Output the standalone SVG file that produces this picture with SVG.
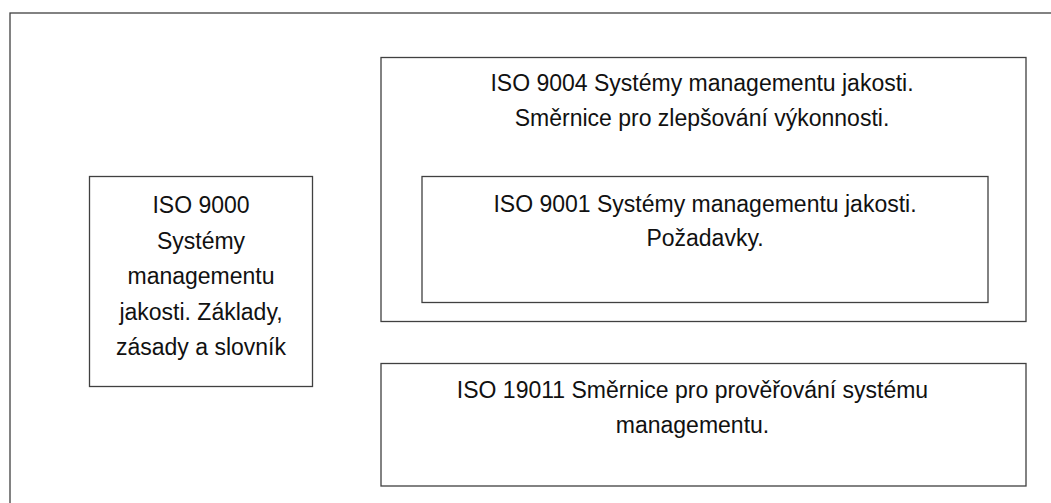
<svg xmlns="http://www.w3.org/2000/svg" width="1051" height="503" viewBox="0 0 1051 503">
<style>
.box{fill:#fff;stroke:#404040;stroke-width:1.3}
.t{font-family:"Liberation Sans",Arial,sans-serif;font-size:23px;fill:#111;text-anchor:middle}
</style>
<rect x="0" y="0" width="1051" height="503" fill="#fff"/>
<rect id="frame" x="10" y="13" width="1060" height="510" fill="none" stroke="#404040" stroke-width="1.3"/>
<g id="connectors"></g>
<g id="iso9000">
<rect class="box" x="89.5" y="176.5" width="223" height="210"/>
<text class="t" x="201" y="213">ISO 9000</text>
<text class="t" x="201" y="248.5">Systémy</text>
<text class="t" x="201" y="284">managementu</text>
<text class="t" x="201" y="319.5">jakosti. Základy,</text>
<text class="t" x="201" y="355">zásady a slovník</text>
</g>
<g id="iso9004">
<rect class="box" x="381" y="57.5" width="645" height="264"/>
<text class="t" x="702" y="91">ISO 9004 Systémy managementu jakosti.</text>
<text class="t" x="702" y="126">Směrnice pro zlepšování výkonnosti.</text>
</g>
<g id="iso9001">
<rect class="box" x="422" y="176.5" width="566" height="126"/>
<text class="t" x="705" y="212">ISO 9001 Systémy managementu jakosti.</text>
<text class="t" x="705" y="246">Požadavky.</text>
</g>
<g id="iso19011">
<rect class="box" x="381" y="363.5" width="645" height="122.5"/>
<text class="t" x="692.5" y="398">ISO 19011 Směrnice pro prověřování systému</text>
<text class="t" x="692.5" y="433">managementu.</text>
</g>
</svg>
